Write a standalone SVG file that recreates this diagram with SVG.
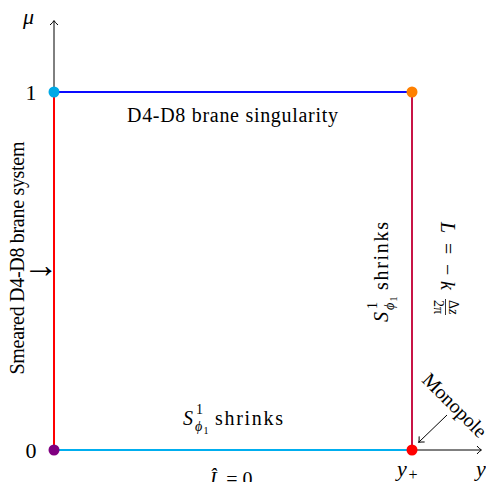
<svg xmlns="http://www.w3.org/2000/svg" width="486" height="482" viewBox="0 0 486 482">
<style>
text{font-family:"Liberation Serif","DejaVu Serif",serif;fill:#000}
.lbl{font-size:20px}
.big{font-size:22px}
.it{font-style:italic}
.sm{font-size:14px}
.xs{font-size:10px}
.axis{stroke:#000;stroke-width:1;fill:none}
.edge{stroke-width:2;fill:none}
</style>
<defs>
<marker id="tip" markerUnits="userSpaceOnUse" markerWidth="12" markerHeight="12" refX="0" refY="0" viewBox="-6 -6 12 12" orient="auto">
<path d="M-4,-4 Q-1.5,-1 0.5,0 Q-1.5,1 -4,4" fill="none" stroke="#000" stroke-width="1"/>
</marker>
<g id="shrinkLbl">
<text class="lbl it" x="183" y="425">S</text>
<text class="sm" x="196" y="414">1</text>
<text class="sm it" x="195" y="431">ϕ</text>
<text class="xs" x="203.5" y="434">1</text>
<text class="lbl" x="215" y="425" textLength="68" lengthAdjust="spacing">shrinks</text>
</g>
</defs>

<g id="axes">
<line class="axis" x1="54" y1="450" x2="54" y2="21" marker-end="url(#tip)"/>
<line class="axis" x1="54" y1="450" x2="481" y2="450" marker-end="url(#tip)"/>
<text class="big it" x="23" y="24">μ</text>
<text class="big" x="31" y="100" text-anchor="middle">1</text>
<text class="big" x="31" y="458" text-anchor="middle">0</text>
<text class="big it" x="397" y="476">y</text>
<text x="408.5" y="480" style="font-size:16px">+</text>
<text class="big it" x="476" y="476">y</text>
</g>

<g id="connectors">
<line class="edge" x1="54" y1="92" x2="412" y2="92" stroke="#0a0aff"/>
<line class="edge" x1="54" y1="92" x2="54" y2="450" stroke="#ff0000"/>
<line class="edge" x1="412" y1="92" x2="412" y2="450" stroke="#c81446"/>
<line class="edge" x1="54" y1="450" x2="412" y2="450" stroke="#00aeef"/>
<line class="axis" x1="447" y1="415" x2="419" y2="442" marker-end="url(#tip)"/>
</g>

<g id="node-top-left"><circle cx="54" cy="92" r="5.5" fill="#00a9e6"/></g>
<g id="node-top-right"><circle cx="412" cy="92" r="5.5" fill="#ff8000"/></g>
<g id="node-bottom-left"><circle cx="54" cy="450" r="5.5" fill="#800080"/></g>
<g id="node-bottom-right"><circle cx="412" cy="450" r="5.5" fill="#ff0000"/></g>

<g id="labels">
<text class="lbl" x="232.5" y="122" text-anchor="middle" textLength="211" lengthAdjust="spacing">D4-D8 brane singularity</text>
<text class="lbl" transform="translate(24 258) rotate(-90)" x="0" y="0" text-anchor="middle" textLength="233" lengthAdjust="spacing">Smeared D4-D8 brane system</text>
<text x="41" y="277" text-anchor="middle" style="font-family:'Liberation Serif','DejaVu Sans',serif;font-size:36px">→</text>
<use href="#shrinkLbl"/>
<use href="#shrinkLbl" transform="translate(-37 505) rotate(-90)"/>
<g transform="translate(441 222) rotate(90)">
<text class="lbl it" x="0" y="0">L</text>
<text class="lbl" x="21" y="0">=</text>
<text class="lbl" x="42" y="0">−</text>
<text class="lbl it" x="59" y="0">k</text>
<text class="sm" x="78" y="-8">Δ<tspan class="it">z</tspan></text>
<line x1="77" y1="-4.5" x2="93" y2="-4.5" stroke="#000" stroke-width="0.8"/>
<text class="sm" x="78" y="7">2π</text>
</g>
<text class="lbl" transform="translate(450 410) rotate(45)" x="0" y="0" text-anchor="middle">Monopole</text>
<text class="lbl" x="210" y="486"><tspan class="it">L&#x302;</tspan> = 0</text>
</g>
</svg>
